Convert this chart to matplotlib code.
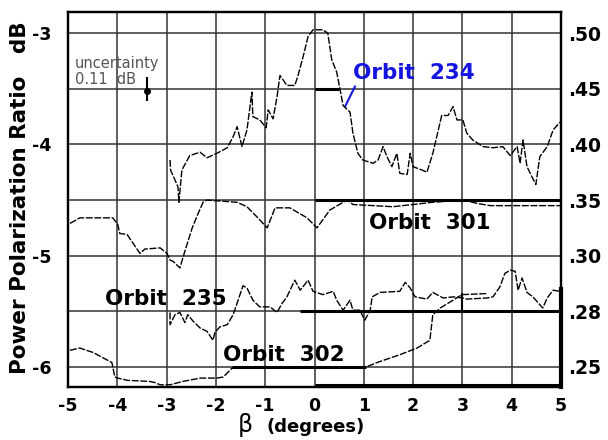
import numpy as np
import matplotlib
matplotlib.use("Agg")
import matplotlib.pyplot as plt

# orbit 234 (top curve)
x234 = [-2.93, -2.92, -2.77, -2.75, -2.69, -2.53, -2.32, -2.18, -1.98, -1.77, -1.65, -1.57, -1.47,
        -1.37, -1.27, -1.25, -1.11, -0.98, -0.94, -0.84, -0.76, -0.70, -0.56, -0.40, -0.34, -0.23,
        -0.13, -0.03, 0.17, 0.27, 0.35, 0.45, 0.52, 0.58, 0.72, 0.78, 0.88, 0.98, 1.19, 1.29, 1.39,
        1.47, 1.57, 1.67, 1.73, 1.88, 1.94, 2.0, 2.18, 2.28, 2.40, 2.48, 2.58, 2.71, 2.81, 2.89,
        3.01, 3.09, 3.21, 3.42, 3.62, 3.82, 3.97, 4.11, 4.17, 4.23, 4.31, 4.41, 4.49, 4.57, 4.72,
        4.84, 4.98]
y234 = [-4.14, -4.23, -4.38, -4.52, -4.23, -4.10, -4.07, -4.12, -4.08, -4.03, -3.93, -3.84, -4.02,
        -3.87, -3.53, -3.75, -3.78, -3.85, -3.69, -3.77, -3.57, -3.38, -3.47, -3.47, -3.39, -3.21,
        -3.03, -2.97, -2.97, -3.00, -3.24, -3.35, -3.51, -3.65, -3.71, -3.90, -4.08, -4.14, -4.17,
        -4.14, -4.02, -4.11, -4.20, -4.08, -4.26, -4.27, -4.08, -4.20, -4.23, -4.25, -4.08, -3.93,
        -3.74, -3.74, -3.66, -3.78, -3.78, -3.90, -3.96, -4.02, -4.03, -4.02, -4.10, -4.02, -4.17,
        -3.96, -4.20, -4.29, -4.36, -4.11, -4.02, -3.87, -3.80]

# orbit 301
x301 = [-4.96, -4.76, -4.09, -3.99, -3.95, -3.80, -3.54, -3.44, -3.13, -2.99, -2.93, -2.87, -2.73,
        -2.63, -2.48, -2.36, -2.26, -2.18, -1.57, -1.37, -1.17, -0.96, -0.80, -0.50, -0.15, 0.05,
        0.31, 0.66, 0.78, 1.59, 2.40, 3.01, 3.30, 3.56, 4.98]
y301 = [-4.71, -4.66, -4.66, -4.72, -4.80, -4.81, -4.98, -4.94, -4.93, -4.98, -5.04, -5.05, -5.11,
        -4.96, -4.75, -4.62, -4.52, -4.50, -4.52, -4.56, -4.65, -4.75, -4.57, -4.57, -4.66, -4.75,
        -4.59, -4.50, -4.54, -4.56, -4.52, -4.50, -4.53, -4.55, -4.55]

# orbit 235
x235 = [-2.93, -2.93, -2.83, -2.73, -2.63, -2.57, -2.46, -2.32, -2.18, -2.06, -2.02, -1.92, -1.77,
        -1.65, -1.55, -1.45, -1.37, -1.25, -1.11, -0.90, -0.76, -0.66, -0.56, -0.40, -0.29, -0.13,
        -0.03, 0.17, 0.38, 0.45, 0.58, 0.72, 0.78, 0.92, 1.02, 1.13, 1.17, 1.33, 1.73, 1.84, 1.94,
        2.04, 2.28, 2.40, 2.61, 2.81, 3.01, 3.09, 3.50, 3.62, 3.76, 3.86, 3.97, 4.07, 4.13, 4.21,
        4.31, 4.43, 4.57, 4.63, 4.72, 4.84, 4.98]
y235 = [-5.51, -5.62, -5.53, -5.51, -5.60, -5.53, -5.59, -5.65, -5.68, -5.76, -5.69, -5.64, -5.62,
        -5.53, -5.40, -5.27, -5.29, -5.40, -5.46, -5.46, -5.51, -5.43, -5.37, -5.22, -5.31, -5.22,
        -5.32, -5.35, -5.32, -5.40, -5.49, -5.40, -5.49, -5.49, -5.58, -5.49, -5.37, -5.33, -5.32,
        -5.24, -5.29, -5.37, -5.39, -5.33, -5.38, -5.37, -5.38, -5.39, -5.38, -5.37, -5.28, -5.16,
        -5.13, -5.14, -5.31, -5.20, -5.33, -5.37, -5.44, -5.47, -5.38, -5.31, -5.32]

# orbit 302
x302 = [-4.96, -4.76, -4.49, -4.11, -4.05, -3.99, -3.80, -3.34, -3.24, -3.13, -2.93, -2.67, -2.32,
        -1.98, -1.85, -1.67, 1.05, 1.27, 1.73, 2.08, 2.34, 2.40, 2.55, 2.81, 2.99, 3.50]
y302 = [-5.85, -5.83, -5.87, -5.96, -6.09, -6.10, -6.12, -6.13, -6.14, -6.16, -6.16, -6.13, -6.10,
        -6.10, -6.09, -6.01, -6.00, -5.96, -5.89, -5.83, -5.76, -5.53, -5.47, -5.40, -5.35, -5.34]

# thick reference segments: (x start, x end, dB)
refs = [(0, 0.5, -3.5), (0, 5, -4.5), (-0.3, 5, -5.5), (-1.67, 1.05, -6.0), (0, 5, -6.16)]

left_ticks = [-3, -4, -5, -6]
grid_y = [-3, -3.5, -4, -4.5, -5, -5.5, -6]
right_labels = [".50", ".45", ".40", ".35", ".30", ".28", ".25"]
x_ticks = [-5, -4, -3, -2, -1, 0, 1, 2, 3, 4, 5]

fig = plt.figure(figsize=(6.08, 4.4), dpi=100)
ax = fig.add_axes([68 / 608, 1 - 387 / 440, 493 / 608, 375 / 440])
ax.set_xlim(-5, 5)
ax.set_ylim(-6.18, -2.81)

for xv in x_ticks:
    ax.axvline(xv, color="#333333", lw=1.1, zorder=1)
for yv in grid_y:
    ax.axhline(yv, color="#333333", lw=1.1, zorder=1)

for xs, ys in [(x234, y234), (x301, y301), (x235, y235), (x302, y302)]:
    ax.plot(xs, ys, color="black", lw=1.0, ls=(0, (5, 1.2)), zorder=3)

for x0, x1, yv in refs:
    ax.plot([x0, x1], [yv, yv], color="black", lw=2.2, zorder=2, solid_capstyle="butt")
ax.plot([3, 3], [-5.34, -5.5], color="black", lw=1.5, zorder=2)
ax.plot([5, 5], [-5.3, -6.18], color="black", lw=3, zorder=4, clip_on=False)

# uncertainty bar
ax.errorbar([-3.40], [-3.52], yerr=[[0.09], [0.13]], fmt="o", color="black", ms=4,
            elinewidth=1.5, capsize=0)
ax.text(-4.86, -3.27, "uncertainty", fontsize=10.5, color="#555555", va="center", ha="left")
ax.text(-4.86, -3.42, "0.11  dB", fontsize=10.5, color="#555555", va="center", ha="left")

bold = dict(fontsize=15.5, fontweight="bold", ha="center", va="center")
ax.text(2.02, -3.36, "Orbit  234", color="#1515e0", **bold)
ax.plot([0.82, 0.62], [-3.48, -3.66], color="#1515e0", lw=1.5)
ax.text(2.33, -4.71, "Orbit  301", color="black", **bold)
ax.text(-3.01, -5.39, "Orbit  235", color="black", **bold)
ax.text(-0.62, -5.89, "Orbit  302", color="black", **bold)

ax.set_xticks(x_ticks)
ax.set_xticklabels([str(v) for v in x_ticks], fontsize=12.5, fontweight="bold")
ax.set_yticks(left_ticks)
ax.set_yticklabels(["-%d" % abs(v) for v in left_ticks], fontsize=12.5, fontweight="bold")
ax.tick_params(axis="both", length=0)
ax.tick_params(axis="x", pad=7)
ax.tick_params(axis="y", pad=12)

ax2 = ax.twinx()
ax2.set_ylim(ax.get_ylim())
ax2.set_yticks(grid_y)
ax2.set_yticklabels(right_labels, fontsize=13.5, fontweight="bold")
ax2.tick_params(axis="y", length=0, pad=5)

for a in (ax, ax2):
    for s in a.spines.values():
        s.set_linewidth(1.6)
        s.set_color("black")

fig.text(20 / 608, 1 - 198 / 440, "Power Polarization Ratio   dB", rotation=90,
         fontsize=15.5, fontweight="bold", ha="center", va="center")
fig.text(245 / 608, 1 - 425 / 440, "β", fontsize=17, ha="center", va="center")
fig.text(316 / 608, 1 - 427 / 440, "(degrees)", fontsize=13, fontweight="bold",
         ha="center", va="center")

fig.savefig("out.png", dpi=100)
